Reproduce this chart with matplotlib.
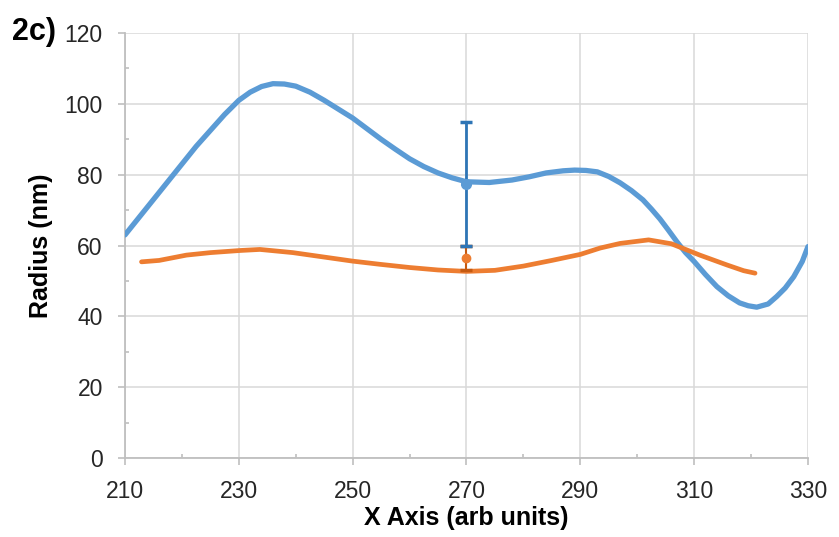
import matplotlib
matplotlib.use("Agg")
from matplotlib import pyplot as plt

plt.rcParams['font.family'] = ['Liberation Sans', 'DejaVu Sans']

# curva azul
blue_x = [210, 212.5, 215, 217.5, 220, 222.5, 225, 227.5, 230, 232, 234, 236, 238, 240,
          242.5, 245, 247.5, 250, 252.5, 255, 257.5, 260, 262.5, 265, 267.5, 270, 274,
          278, 281, 284, 287, 289, 291, 293, 295, 297, 299, 301, 302.5, 304, 305.5, 307,
          308.5, 310, 312, 314, 316, 318, 319.5, 321, 323, 324.5, 326, 327.5, 329, 330]
blue_y = [63, 68, 73, 78, 83, 88, 92.5, 97, 101, 103.3, 104.9, 105.7, 105.6, 105,
          103.3, 101, 98.5, 96, 93, 90, 87.2, 84.5, 82.3, 80.5, 79.1, 78, 77.8,
          78.5, 79.4, 80.5, 81.1, 81.3, 81.2, 80.8, 79.5, 77.7, 75.5, 72.9, 70.3, 67.5, 64.3, 61,
          58, 55.5, 51.8, 48.4, 45.8, 43.8, 43, 42.6, 43.5, 45.6, 48, 51.2, 55.5, 59.7]

# curva naranja
orange_x = [212.9, 216, 220.8, 225, 230.2, 233.7, 239.5, 246.5, 250, 254.8, 260, 265, 270,
            275, 280, 285, 290, 293.5, 297, 302, 306, 311, 315.8, 318.7, 320.7]
orange_y = [55.4, 55.8, 57.3, 58, 58.6, 58.9, 58, 56.4, 55.6, 54.7, 53.8, 53.1, 52.7,
            53, 54.2, 55.8, 57.5, 59.3, 60.6, 61.6, 60.5, 57.3, 54.5, 52.9, 52.2]

# puntos con barras de error
err_x = [270]
blue_pt = [77.5]
blue_err = [17.5]
orange_pt = [56.5]
orange_err = [3.3]

x_ticks = [210, 230, 250, 270, 290, 310, 330]
x_minor = [220, 240, 260, 280, 300, 320]
y_ticks = [0, 20, 40, 60, 80, 100, 120]
y_minor = [10, 30, 50, 70, 90, 110]

fig = plt.figure(figsize=(8.39, 5.37), dpi=100)
ax = fig.add_axes([0.149, 0.147, 0.814, 0.7915])

ax.plot(blue_x, blue_y, color='#5B9BD5', lw=3.8, solid_capstyle='round',
        solid_joinstyle='round', zorder=3)
ax.plot(orange_x, orange_y, color='#ED7D31', lw=3.4, solid_capstyle='round',
        solid_joinstyle='round', zorder=3)

ax.errorbar(err_x, orange_pt, yerr=orange_err, fmt='o', color='#ED7D31', ms=6,
            ecolor='#C55A11', elinewidth=1.5, capsize=4, capthick=2.5, zorder=4)
ax.errorbar(err_x, blue_pt, yerr=blue_err, fmt='o', color='#5B9BD5', ms=7,
            ecolor='#2E75B6', elinewidth=2, capsize=4, capthick=2.5, zorder=5)

ax.set_xlim(210, 330)
ax.set_ylim(0, 120)
ax.set_xticks(x_ticks)
ax.set_xticks(x_minor, minor=True)
ax.set_yticks(y_ticks)
ax.set_yticks(y_minor, minor=True)

ax.grid(True, which='major', color='#d9d9d9', lw=1.1, zorder=0)
ax.set_axisbelow(True)
for s in ['top', 'right']:
    ax.spines[s].set_visible(False)
for s in ['left', 'bottom']:
    ax.spines[s].set_color('#bfbfbf')
    ax.spines[s].set_linewidth(1.3)

ax.tick_params(which='major', direction='out', length=5, width=1.2, color='#bfbfbf',
               labelsize=16.5, labelcolor='#262626', pad=11)
ax.tick_params(which='minor', direction='in', length=3, width=1.2, color='#bfbfbf')

ax.set_xlabel('X Axis (arb units)', fontsize=18, fontweight='bold', labelpad=2)
ax.set_ylabel('Radius (nm)', fontsize=18, fontweight='bold', labelpad=8)

fig.text(0.014, 0.94, '2c)', fontsize=22, fontweight='bold', va='center', ha='left')

fig.savefig('out.png', dpi=100)
